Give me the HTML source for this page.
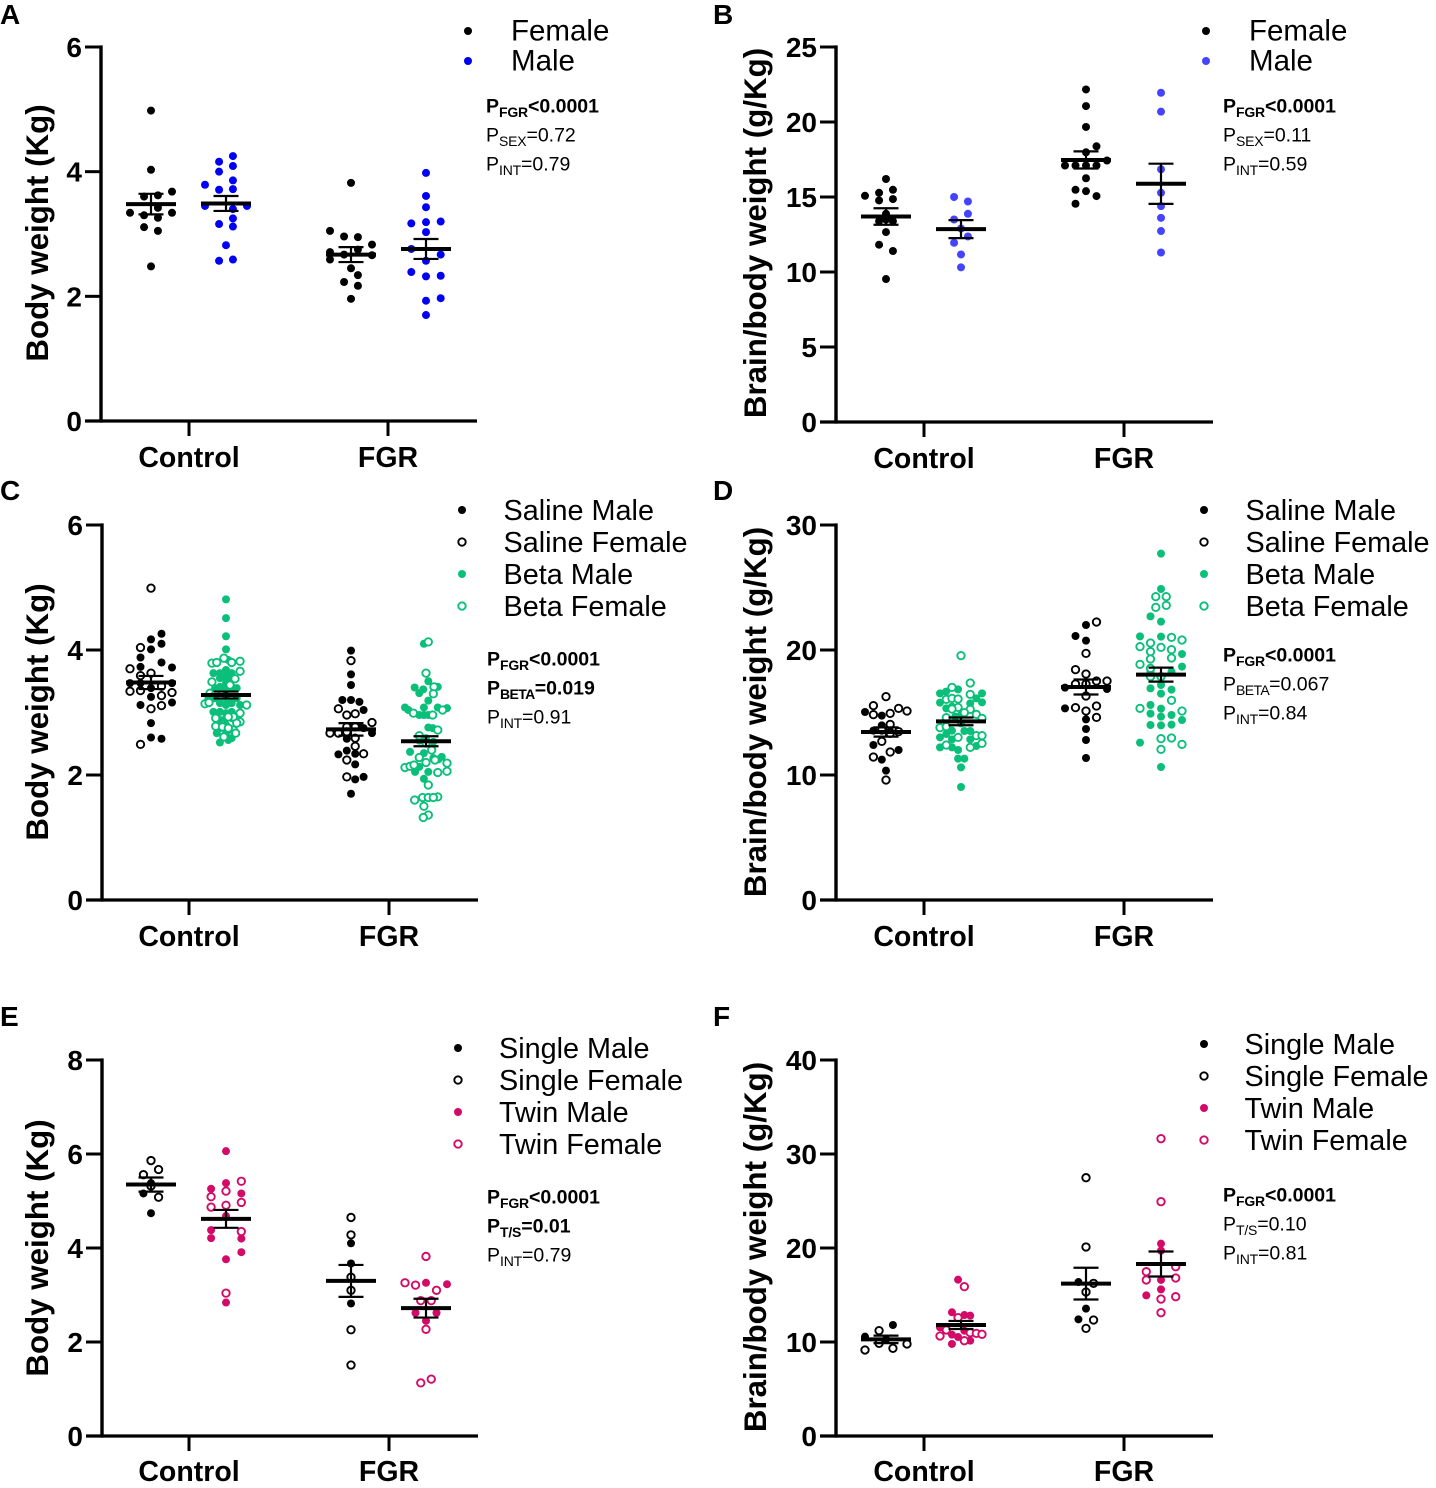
<!DOCTYPE html>
<html lang="en">
<head>
<meta charset="utf-8">
<title>Body weight and brain/body weight panels</title>
<style>
  html, body { margin: 0; padding: 0; background: #fff; }
  svg { display: block; }
  text { font-family: "Liberation Sans", sans-serif; fill: #000; }
  .letter { font-size: 28px; font-weight: 700; }
  .ytitle { font-size: 31.3px; font-weight: 700; text-anchor: middle; }
  .xlab { font-size: 28.5px; font-weight: 700; text-anchor: middle; }
  .ytick { font-size: 28px; font-weight: 700; text-anchor: end; }
  .leg { font-size: 28.8px; }
  .leg.big { font-size: 29.5px; }
  .st { font-size: 19.5px; }
  .st.b { font-weight: 700; }
  .st .s { font-size: 14px; letter-spacing: -0.2px; }
  .st .s.tight { letter-spacing: -0.6px; }
</style>
</head>
<body>
<svg id="figure" xmlns="http://www.w3.org/2000/svg" width="1436" height="1488" viewBox="0 0 1436 1488">
  <rect x="0" y="0" width="1436" height="1488" fill="#fff"/>

  <!-- Panel A -->
  <g id="panel-a">
    <text class="letter" x="0" y="24">A</text>
    <text class="ytitle" transform="translate(48,233) rotate(-90)">Body weight (Kg)</text>
    <text class="xlab" x="189" y="467">Control</text>
    <text class="xlab" x="388" y="467">FGR</text>
    <circle cx="468" cy="31" r="4" fill="#000"/>
    <circle cx="468" cy="61" r="4" fill="#0000f5"/>
    <text class="leg big" x="511" y="40.5">Female</text>
    <text class="leg big" x="511" y="70.5">Male</text>
    <text class="st b" x="486" y="112.5">P<tspan class="s" dy="4.5">FGR</tspan><tspan dy="-4.5">&lt;0.0001</tspan></text>
    <text class="st" x="486" y="141.5">P<tspan class="s" dy="4.5">SEX</tspan><tspan dy="-4.5">=0.72</tspan></text>
    <text class="st" x="486" y="170.5">P<tspan class="s" dy="4.5">INT</tspan><tspan dy="-4.5">=0.79</tspan></text>
  </g>

  <!-- Panel B -->
  <g id="panel-b">
    <text class="letter" x="713" y="24">B</text>
    <text class="ytitle" transform="translate(766,233) rotate(-90)">Brain/body weight (g/Kg)</text>
    <text class="xlab" x="924" y="468">Control</text>
    <text class="xlab" x="1124" y="468">FGR</text>
    <circle cx="1206" cy="31" r="4" fill="#000"/>
    <circle cx="1206" cy="61" r="4" fill="#4444ff"/>
    <text class="leg big" x="1249" y="40.5">Female</text>
    <text class="leg big" x="1249" y="70.5">Male</text>
    <text class="st b" x="1223" y="112.5">P<tspan class="s" dy="4.5">FGR</tspan><tspan dy="-4.5">&lt;0.0001</tspan></text>
    <text class="st" x="1223" y="141.5">P<tspan class="s" dy="4.5">SEX</tspan><tspan dy="-4.5">=0.11</tspan></text>
    <text class="st" x="1223" y="170.5">P<tspan class="s" dy="4.5">INT</tspan><tspan dy="-4.5">=0.59</tspan></text>
  </g>

  <!-- Panel C -->
  <g id="panel-c">
    <text class="letter" x="0" y="500">C</text>
    <text class="ytitle" transform="translate(48,712) rotate(-90)">Body weight (Kg)</text>
    <text class="xlab" x="189" y="946">Control</text>
    <text class="xlab" x="389" y="946">FGR</text>
    <circle cx="462" cy="510" r="4" fill="#000"/>
    <circle cx="462" cy="542" r="3.7" fill="#fff" stroke="#000" stroke-width="1.9"/>
    <circle cx="462" cy="574" r="4" fill="#0abf7a"/>
    <circle cx="462" cy="606" r="3.7" fill="#fff" stroke="#0abf7a" stroke-width="1.9"/>
    <text class="leg" x="503.5" y="520">Saline Male</text>
    <text class="leg" x="503.5" y="552">Saline Female</text>
    <text class="leg" x="503.5" y="584">Beta Male</text>
    <text class="leg" x="503.5" y="616">Beta Female</text>
    <text class="st b" x="487" y="665.5">P<tspan class="s" dy="4.5">FGR</tspan><tspan dy="-4.5">&lt;0.0001</tspan></text>
    <text class="st b" x="487" y="694.5">P<tspan class="s tight" dy="4.5">BETA</tspan><tspan dy="-4.5">=0.019</tspan></text>
    <text class="st" x="487" y="723.5">P<tspan class="s" dy="4.5">INT</tspan><tspan dy="-4.5">=0.91</tspan></text>
  </g>

  <!-- Panel D -->
  <g id="panel-d">
    <text class="letter" x="713" y="500">D</text>
    <text class="ytitle" transform="translate(766,712) rotate(-90)">Brain/body weight (g/Kg)</text>
    <text class="xlab" x="924" y="946">Control</text>
    <text class="xlab" x="1124" y="946">FGR</text>
    <circle cx="1204" cy="510" r="4" fill="#000"/>
    <circle cx="1204" cy="542" r="3.7" fill="#fff" stroke="#000" stroke-width="1.9"/>
    <circle cx="1204" cy="574" r="4" fill="#0abf7a"/>
    <circle cx="1204" cy="606" r="3.7" fill="#fff" stroke="#0abf7a" stroke-width="1.9"/>
    <text class="leg" x="1245.5" y="520">Saline Male</text>
    <text class="leg" x="1245.5" y="552">Saline Female</text>
    <text class="leg" x="1245.5" y="584">Beta Male</text>
    <text class="leg" x="1245.5" y="616">Beta Female</text>
    <text class="st b" x="1223" y="661.5">P<tspan class="s" dy="4.5">FGR</tspan><tspan dy="-4.5">&lt;0.0001</tspan></text>
    <text class="st" x="1223" y="690.5">P<tspan class="s tight" dy="4.5">BETA</tspan><tspan dy="-4.5">=0.067</tspan></text>
    <text class="st" x="1223" y="719.5">P<tspan class="s" dy="4.5">INT</tspan><tspan dy="-4.5">=0.84</tspan></text>
  </g>

  <!-- Panel E -->
  <g id="panel-e">
    <text class="letter" x="0" y="1026">E</text>
    <text class="ytitle" transform="translate(48,1248) rotate(-90)">Body weight (Kg)</text>
    <text class="xlab" x="189" y="1481">Control</text>
    <text class="xlab" x="389" y="1481">FGR</text>
    <circle cx="458" cy="1048" r="4" fill="#000"/>
    <circle cx="458" cy="1080" r="3.7" fill="#fff" stroke="#000" stroke-width="1.9"/>
    <circle cx="458" cy="1112" r="4" fill="#d30a68"/>
    <circle cx="458" cy="1144" r="3.7" fill="#fff" stroke="#d30a68" stroke-width="1.9"/>
    <text class="leg" x="499" y="1058">Single Male</text>
    <text class="leg" x="499" y="1090">Single Female</text>
    <text class="leg" x="499" y="1122">Twin Male</text>
    <text class="leg" x="499" y="1154">Twin Female</text>
    <text class="st b" x="487" y="1203.5">P<tspan class="s" dy="4.5">FGR</tspan><tspan dy="-4.5">&lt;0.0001</tspan></text>
    <text class="st b" x="487" y="1232.5">P<tspan class="s" dy="4.5">T/S</tspan><tspan dy="-4.5">=0.01</tspan></text>
    <text class="st" x="487" y="1261.5">P<tspan class="s" dy="4.5">INT</tspan><tspan dy="-4.5">=0.79</tspan></text>
  </g>

  <!-- Panel F -->
  <g id="panel-f">
    <text class="letter" x="713" y="1026">F</text>
    <text class="ytitle" transform="translate(766,1247) rotate(-90)">Brain/body weight (g/Kg)</text>
    <text class="xlab" x="924" y="1481">Control</text>
    <text class="xlab" x="1124" y="1481">FGR</text>
    <circle cx="1204" cy="1044" r="4" fill="#000"/>
    <circle cx="1204" cy="1076" r="3.7" fill="#fff" stroke="#000" stroke-width="1.9"/>
    <circle cx="1204" cy="1108" r="4" fill="#d30a68"/>
    <circle cx="1204" cy="1140" r="3.7" fill="#fff" stroke="#d30a68" stroke-width="1.9"/>
    <text class="leg" x="1244.5" y="1054">Single Male</text>
    <text class="leg" x="1244.5" y="1086">Single Female</text>
    <text class="leg" x="1244.5" y="1118">Twin Male</text>
    <text class="leg" x="1244.5" y="1150">Twin Female</text>
    <text class="st b" x="1223" y="1201.5">P<tspan class="s" dy="4.5">FGR</tspan><tspan dy="-4.5">&lt;0.0001</tspan></text>
    <text class="st" x="1223" y="1230.5">P<tspan class="s" dy="4.5">T/S</tspan><tspan dy="-4.5">=0.10</tspan></text>
    <text class="st" x="1223" y="1259.5">P<tspan class="s" dy="4.5">INT</tspan><tspan dy="-4.5">=0.81</tspan></text>
  </g>
</svg>

<script>
// ---- Panel A: body weight by sex ----
const aTicks = [0, 2, 4, 6];
const aMeans = [3.48, 3.49, 2.67, 2.76];
const aSems = [0.165, 0.12, 0.12, 0.16];
const aCtrlFemale = [4.98, 4.03, 3.68, 3.60, 3.62, 3.42, 3.34, 3.30, 3.26, 3.34, 3.11, 3.05, 2.48];
const aCtrlFemaleJit = [0, 0, 1, -0.33, 0.33, 0.33, -1, -0.33, 0.33, 1, -0.33, 0.33, 0];
const aCtrlMale = [4.25, 4.16, 4.09, 4.0, 3.86, 3.79, 3.71, 3.72, 3.45, 3.45, 3.40, 3.25, 3.16, 3.12, 2.82, 2.57, 2.59];
const aCtrlMaleJit = [0.33, -0.33, 0.33, -0.33, 0.33, -1, -0.33, 0.33, -1, 1, 0.33, 0.33, -0.33, 0.33, 0, -0.33, 0.33];
const aFgrFemale = [3.82, 3.05, 2.96, 2.95, 2.83, 2.71, 2.75, 2.67, 2.66, 2.59, 2.45, 2.34, 2.23, 2.17, 1.96];
const aFgrFemaleJit = [0, -1, -0.33, 0.33, 1, -1, 0.33, -0.33, 1, -1, 0, 0.33, -0.33, 0.33, 0];
const aFgrMale = [3.98, 3.61, 3.43, 3.17, 3.19, 3.20, 3.03, 2.76, 2.67, 2.57, 2.39, 2.32, 2.33, 1.97, 1.93, 1.70];
const aFgrMaleJit = [0, 0, 0, -0.7, 0, 0.7, 0, -0.7, 0.7, 0, -0.7, 0, 0.7, 0.7, 0, 0];

// ---- Panel B: brain/body ratio by sex ----
const bTicks = [0, 5, 10, 15, 20, 25];
const bMeans = [13.7, 12.86, 17.47, 15.88];
const bSems = [0.55, 0.6, 0.57, 1.34];
const bCtrlFemale = [16.2, 15.08, 15.28, 15.48, 14.77, 14.86, 13.88, 13.39, 13.39, 13.5, 12.66, 11.82, 11.4, 9.53];
const bCtrlFemaleJit = [0, -1, -0.33, 0.33, -0.33, 0.33, 0, -0.33, 0.33, 0, 0, -0.33, 0.33, 0];
const bCtrlMale = [15.0, 14.7, 13.88, 13.5, 12.9, 12.37, 11.95, 11.17, 10.31];
const bCtrlMaleJit = [-0.33, 0.33, 0.33, -0.33, 0, 0.33, -0.33, 0, 0];
const bFgrFemale = [22.17, 21.06, 19.67, 18.38, 17.98, 17.43, 17.1, 17.1, 17.1, 17.1, 16.25, 15.48, 15.39, 15.06, 14.55];
const bFgrFemaleJit = [0, 0, 0, 0.5, 0, 1, -1, -0.5, 0, 0.5, 0, -0.5, 0, 0.5, -0.5];
const bFgrMale = [21.95, 20.69, 16.85, 15.28, 14.39, 13.61, 12.73, 11.3];
const bFgrMaleJit = [0, 0, 0, 0, 0, 0, 0, 0];

// ---- Panel C: body weight by saline/beta ----
const cTicks = [0, 2, 4, 6];
const cMeans = [3.48, 3.28, 2.73, 2.54];
const cSems = [0.105, 0.055, 0.1, 0.08];
const cCtrlSalineMale = [4.26, 4.17, 4.10, 4.01, 3.88, 3.80, 3.73, 3.72, 3.39, 3.12, 3.16, 3.25, 2.83, 2.60, 2.58, 3.47, 3.47, 3.47];
const cCtrlSalineMaleJit = [0.5, 0, 0.5, 0, -0.5, 0.5, -0.5, 1, 0, -0.5, 1, 0, 0, 0, 0.5, -1, 1, -0.5];
const cCtrlSalineFemale = [4.99, 4.04, 3.70, 3.63, 3.59, 3.35, 3.34, 3.32, 3.42, 3.27, 3.11, 3.06, 2.49];
const cCtrlSalineFemaleJit = [0, -0.5, -1, 0, -0.5, -0.5, -1, 1, 0.5, 0.5, 0.5, 0, -0.5];
const cCtrlBetaMale = [4.81, 4.51, 4.22, 4.01, 3.84, 3.63, 3.63, 3.68, 3.63, 3.57, 3.55, 3.52, 3.47, 3.41, 3.41, 3.39, 3.39, 3.36, 3.23, 3.23, 3.23, 3.23, 3.15, 3.12, 3.15, 3.12, 3.01, 3.01, 2.99, 3.01, 2.88, 2.91, 2.91, 2.8, 2.75, 2.67, 2.67, 2.59, 2.52, 2.56];
const cCtrlBetaMaleJit = [0, 0, 0, 0, 0.11, -0.6, -0.29, 0, 0.27, 0, -0.29, 0.27, 0, -0.29, 0.27, -0.52, 0.51, 0, -0.84, -0.52, 0, 0.51, -0.29, 0, 0.27, 0.67, -0.6, -0.29, 0, 0.27, -0.29, 0, 0.27, 0, -0.29, -0.44, 0, 0.27, -0.29, 0.11];
const cCtrlBetaFemale = [3.79, 3.8, 3.87, 3.8, 3.82, 3.66, 3.54, 3.49, 3.44, 3.31, 3.3, 3.14, 3.16, 3.12, 2.99, 2.93, 2.93, 2.85, 2.91, 2.83, 2.78, 2.72, 2.67, 2.61, 2.77, 2.75];
const cCtrlBetaFemaleJit = [-0.67, -0.44, -0.1, 0.27, 0.67, 0.67, 0.43, -0.67, 0.19, -0.76, -0.49, -1, -0.81, 0.98, 0.67, 0.35, 0.11, 0.67, -0.49, 0.51, -0.49, 0.35, 0.46, -0.1, -0.17, 0.11];
const cFgrSalineMale = [3.99, 3.61, 3.44, 3.2, 3.2, 3.17, 3.04, 2.77, 2.75, 2.67, 2.58, 2.39, 2.34, 2.33, 2.17, 1.97, 1.93, 1.7];
const cFgrSalineMaleJit = [0, 0, 0, -0.41, 0, 0.4, 0.6, 0.4, 0.6, 1, -0.2, -0.2, 0.2, -0.6, 0.2, 0.6, 0.2, 0];
const cFgrSalineFemale = [3.83, 3.06, 2.96, 2.98, 2.84, 2.77, 2.77, 2.69, 2.67, 2.67, 2.59, 2.46, 2.34, 2.24, 1.97];
const cFgrSalineFemaleJit = [0, -0.6, -0.2, 0.2, 1, -0.2, 0.2, -0.2, -1, -0.6, 0.2, 0.2, 0.6, -0.2, -0.2];
const cFgrBetaMale = [4.1, 3.5, 3.4, 3.37, 3.31, 3.41, 3.19, 3.08, 3.08, 3.08, 3.07, 3.04, 2.96, 2.96, 2.96, 2.76, 2.75, 2.59, 2.55, 2.53, 2.37, 2.35, 2.29, 2.27, 2.13, 2.05, 2.05, 1.94, 2.25, 2.12];
const cFgrBetaMaleJit = [-0.1, 0.11, -0.54, -0.13, -0.32, 0.56, 0.11, -1, -0.1, 0.56, 1, -0.84, -0.32, -0.1, 0.11, 0.11, 0.32, 0, -0.32, 0.35, -0.76, -0.1, 0.75, 0.35, -0.32, -0.52, 0.11, -0.1, 0.59, -0.52];
const cFgrBetaFemale = [4.13, 3.63, 3.41, 3.3, 2.99, 2.96, 3.04, 2.72, 2.63, 2.51, 2.4, 2.28, 2.2, 2.24, 2.19, 2.06, 2.12, 2.14, 2.16, 2.04, 1.84, 1.65, 1.64, 1.64, 1.64, 1.6, 1.5, 1.36, 1.32];
const cFgrBetaFemaleJit = [0.11, 0, 0.38, 0.35, -0.6, 0.32, 0.79, 0.56, -0.32, 0, 0.27, -0.32, 0, 0.43, 1, 1, -1, -0.76, -0.57, 0.56, 0.11, 0.56, -0.16, 0.11, 0.35, -0.54, -0.1, 0.11, -0.13];

// ---- Panel D: brain/body ratio by saline/beta ----
const dTicks = [0, 10, 20, 30];
const dMeans = [13.44, 14.29, 17.04, 18.03];
const dSems = [0.37, 0.31, 0.6, 0.56];
const dCtrlSalineMale = [15.04, 14.75, 13.97, 13.55, 13.47, 12.4, 12.0, 11.23, 10.35];
const dCtrlSalineMaleJit = [-1, -0.2, -0.2, -0.6, 0.2, -0.6, 0.6, -0.2, 0];
const dCtrlSalineFemale = [16.27, 15.55, 15.33, 15.12, 14.83, 14.93, 14.05, 13.6, 13.33, 13.47, 12.69, 11.84, 11.44, 9.6];
const dCtrlSalineFemaleJit = [0, -0.6, 0.6, 1, -0.6, 0.2, 0.2, -0.2, 0.2, 0.6, -0.2, 0.2, -0.6, 0];
const dCtrlBetaMale = [16.53, 16.67, 16.85, 16.53, 16.13, 15.73, 15.79, 15.81, 15.33, 15.47, 14.8, 14.67, 14.13, 13.55, 13.52, 13.52, 13.28, 13.01, 12.85, 12.85, 12.21, 12.21, 12.0, 12.32, 11.31, 11.31, 10.61, 9.04];
const dCtrlBetaMaleJit = [-1, -0.71, -0.14, 1, 0.73, 0.44, -1, 1, -0.7, -0.43, 0, -0.27, 0, -0.43, 0.16, 0.44, -0.7, -1, -0.43, 0.44, -1, -0.43, -0.14, 0.73, -0.14, 0.16, 0, 0];
const dCtrlBetaFemale = [19.55, 17.36, 17.01, 16.45, 16.05, 16.13, 16.08, 15.41, 15.28, 15.25, 14.99, 14.85, 14.59, 14.53, 13.79, 13.87, 13.15, 13.15, 13.01, 12.53, 12.4, 12.21];
const dCtrlBetaFemaleJit = [0, 0.44, -0.43, 0.44, -0.7, -0.43, -0.14, -0.14, -0.43, 0.44, 0.16, 0.73, -0.7, 1, -1, -0.7, 0.73, 1, -0.14, 1, -0.7, 0.44];
const dFgrSalineMale = [22.0, 21.12, 20.75, 16.99, 16.88, 15.33, 14.45, 13.68, 12.8, 11.36];
const dFgrSalineMaleJit = [0, -0.5, 0, -1, 1, -1, 0, 0, 0, 0];
const dFgrSalineFemale = [22.24, 19.73, 18.43, 18.08, 17.52, 17.52, 17.28, 17.28, 16.32, 15.39, 15.52, 15.12, 14.61];
const dFgrSalineFemaleJit = [0.5, 0, -0.5, 0, 0.5, 1, -0.5, 0, 0, -0.5, 0.5, 0, 0.5];
const dFgrBetaMale = [27.71, 24.88, 22.69, 22.27, 21.09, 21.07, 19.68, 18.67, 18.27, 18.27, 17.2, 16.93, 16.83, 16.51, 15.6, 15.31, 14.91, 14.8, 14.67, 14.4, 14.0, 13.97, 14.03, 12.59, 10.64];
const dFgrBetaMaleJit = [0, 0, -0.5, 0, -1, 0, 1, 1, 0.5, -0.5, 0, -0.5, 0.5, 0, -0.5, 0, -0.5, 0.5, 0, 1, -0.5, 0, 0.5, -1, 0];
const dFgrBetaFemale = [24.27, 24.27, 23.41, 23.57, 21.01, 20.8, 20.56, 20.27, 20.21, 20.03, 19.87, 19.28, 19.36, 18.85, 18.53, 17.87, 17.87, 15.97, 15.33, 15.12, 12.91, 12.96, 12.45, 12.05];
const dFgrBetaFemaleJit = [-0.25, 0.25, -0.25, 0.25, 0.5, 1, -0.5, -1, 0, 0.5, -0.5, -0.5, 0.5, -1, -0.5, -0.5, 0, 0.5, -1, 1, 0, 0.5, 1, 0];

// ---- Panel E: body weight by single/twin ----
const eTicks = [0, 2, 4, 6, 8];
const eMeans = [5.35, 4.62, 3.3, 2.72];
const eSems = [0.15, 0.19, 0.34, 0.2];
const eCtrlSingleMale = [5.38, 5.16, 4.74];
const eCtrlSingleMaleJit = [0, -0.36, 0];
const eCtrlSingleFemale = [5.86, 5.67, 5.56, 5.32, 5.08];
const eCtrlSingleFemaleJit = [0, 0.36, -0.36, 0, 0.36];
const eCtrlTwinMale = [6.06, 5.38, 5.26, 5.16, 4.68, 4.38, 4.21, 4.2, 3.91, 3.76, 2.84];
const eCtrlTwinMaleJit = [0, 0, -0.71, 0.73, 0, -0.71, -0.71, 0.73, 0.73, 0, 0];
const eCtrlTwinFemale = [5.42, 5.21, 5.09, 4.97, 4.87, 4.91, 4.35, 3.04];
const eCtrlTwinFemaleJit = [0.73, 0, -0.71, 0.73, -0.71, 0, 0.73, 0];
const eFgrSingleMale = [4.1, 3.67, 2.82];
const eFgrSingleMaleJit = [0, 0, 0];
const eFgrSingleFemale = [4.65, 4.28, 3.38, 3.1, 2.26, 1.51];
const eFgrSingleFemaleJit = [0, 0, 0, 0, 0, 0];
const eFgrTwinMale = [3.26, 3.23, 2.62, 2.62, 2.45];
const eFgrTwinMaleJit = [0, 1, -0.5, 0.5, 0];
const eFgrTwinFemale = [3.82, 3.26, 3.21, 3.1, 2.88, 2.88, 2.27, 1.21, 1.13];
const eFgrTwinFemaleJit = [0, -1, -0.5, 0.5, -0.25, 0.25, 0, 0.25, -0.25];

// ---- Panel F: brain/body ratio by single/twin ----
const fTicks = [0, 10, 20, 30, 40];
const fMeans = [10.28, 11.81, 16.21, 18.3];
const fSems = [0.4, 0.43, 1.69, 1.33];
const fCtrlSingleMale = [11.81, 10.57, 10.28];
const fCtrlSingleMaleJit = [0.33, -1, 0];
const fCtrlSingleFemale = [11.21, 9.86, 9.79, 9.33, 9.15];
const fCtrlSingleFemaleJit = [-0.33, -0.33, 1, 0.33, -1];
const fCtrlTwinMale = [16.63, 13.16, 12.87, 12.8, 11.56, 11.2, 10.78, 10.53, 10.14, 9.79];
const fCtrlTwinMaleJit = [-0.14, -0.43, 0.16, 0.44, -1, 0.16, -0.43, -0.14, 0.44, -0.43];
const fCtrlTwinFemale = [15.89, 12.59, 11.28, 10.99, 10.92, 10.82, 10.64, 10.14];
const fCtrlTwinFemaleJit = [0.16, -0.14, -0.7, 0.44, 0.73, 1, -1, 0.16];
const fFgrSingleMale = [16.38, 13.55, 12.41];
const fFgrSingleMaleJit = [-0.36, 0, -0.36];
const fFgrSingleFemale = [27.48, 20.11, 16.24, 15.32, 12.34, 11.45];
const fFgrSingleFemaleJit = [0, 0, 0.36, 0, 0.36, 0];
const fFgrTwinMale = [20.46, 19.72, 16.6, 15.6, 14.96];
const fFgrTwinMaleJit = [0, 0, 0, 0, -0.7];
const fFgrTwinFemale = [31.63, 24.93, 18.01, 17.48, 16.81, 16.6, 14.82, 14.57, 13.12];
const fFgrTwinFemaleJit = [0, 0, 0.7, -0.7, 0.7, -0.7, 0.7, 0, 0];

// ---- Drawing ----
const NS = 'http://www.w3.org/2000/svg';
const BLACK = '#000', BLUE = '#0000f5', BLUE2 = '#4444ff', GREEN = '#0abf7a', CRIMSON = '#d30a68';

function mk(parent, tag, attrs) {
  const el = document.createElementNS(NS, tag);
  for (const k in attrs) el.setAttribute(k, attrs[k]);
  parent.appendChild(el);
  return el;
}

function drawPanel(p) {
  const root = document.getElementById(p.id);
  const yScale = v => p.yBottom - (v / p.ticks[p.ticks.length - 1]) * (p.yBottom - p.yTop);
  const jitterScale = j => j * 21;

  const yAxis = mk(root, 'line', { x1: p.axisX, x2: p.axisX, y1: p.yTop - 1.6, y2: p.yBottom + 1.6, stroke: '#000', 'stroke-width': 3.4 });
  
  
  const xAxis = mk(root, 'line', { x1: p.axisX - 16, x2: p.xEnd, y1: p.yBottom, y2: p.yBottom, stroke: '#000', 'stroke-width': 3.2 });
  
  

  p.ticks.forEach(t => {
    const tick = mk(root, 'line', { x1: p.axisX - 16, x2: p.axisX, y1: yScale(t), y2: yScale(t), stroke: '#000', 'stroke-width': 3 });
    
    
    const lab = mk(root, 'text', { class: 'ytick', x: p.axisX - 19, y: yScale(t) + 10 });
    lab.textContent = String(t);
    
    
  });
  p.xTicks.forEach(x => {
    const tick = mk(root, 'line', { x1: x, x2: x, y1: p.yBottom, y2: p.yBottom + 15, stroke: '#000', 'stroke-width': 3 });
    
    
  });

  p.series.forEach(s => {
    const cx = p.cols[s.col];
    s.values.forEach((v, i) => {
      const x = cx + jitterScale(s.jitter[i] || 0);
      const attrs = s.open
        ? { cx: x, cy: yScale(v), r: 3.7, fill: '#fff', stroke: s.color, 'stroke-width': 1.9 }
        : { cx: x, cy: yScale(v), r: 4, fill: s.color };
      const dot = mk(root, 'circle', attrs);
      
      
    });
  });

  p.means.forEach((m, i) => {
    const cx = p.cols[i], hi = yScale(m + p.sems[i]), lo = yScale(m - p.sems[i]);
    const stem = mk(root, 'line', { x1: cx, x2: cx, y1: hi, y2: lo, stroke: '#000', 'stroke-width': 2.2 });
    
    
    const capTop = mk(root, 'line', { x1: cx - 12.5, x2: cx + 12.5, y1: hi, y2: hi, stroke: '#000', 'stroke-width': 2.2 });
    
    
    const capLow = mk(root, 'line', { x1: cx - 12.5, x2: cx + 12.5, y1: lo, y2: lo, stroke: '#000', 'stroke-width': 2.2 });
    
    
    const mean = mk(root, 'line', { x1: cx - 25, x2: cx + 25, y1: yScale(m), y2: yScale(m), stroke: '#000', 'stroke-width': 4 });
    
    
  });
}

const leftCols = [151, 226, 351, 426];
const rightCols = [886, 961, 1086, 1161];

drawPanel({ id: 'panel-a', axisX: 101, xEnd: 477, yTop: 47, yBottom: 421, xTicks: [189, 388], cols: leftCols, ticks: aTicks, means: aMeans, sems: aSems, series: [
  { col: 0, values: aCtrlFemale, jitter: aCtrlFemaleJit, color: BLACK },
  { col: 1, values: aCtrlMale, jitter: aCtrlMaleJit, color: BLUE },
  { col: 2, values: aFgrFemale, jitter: aFgrFemaleJit, color: BLACK },
  { col: 3, values: aFgrMale, jitter: aFgrMaleJit, color: BLUE }
] });
drawPanel({ id: 'panel-b', axisX: 836, xEnd: 1213, yTop: 47, yBottom: 422, xTicks: [924, 1124], cols: rightCols, ticks: bTicks, means: bMeans, sems: bSems, series: [
  { col: 0, values: bCtrlFemale, jitter: bCtrlFemaleJit, color: BLACK },
  { col: 1, values: bCtrlMale, jitter: bCtrlMaleJit, color: BLUE2 },
  { col: 2, values: bFgrFemale, jitter: bFgrFemaleJit, color: BLACK },
  { col: 3, values: bFgrMale, jitter: bFgrMaleJit, color: BLUE2 }
] });
drawPanel({ id: 'panel-c', axisX: 102, xEnd: 478, yTop: 525, yBottom: 900, xTicks: [189, 389], cols: leftCols, ticks: cTicks, means: cMeans, sems: cSems, series: [
  { col: 0, values: cCtrlSalineMale, jitter: cCtrlSalineMaleJit, color: BLACK },
  { col: 0, values: cCtrlSalineFemale, jitter: cCtrlSalineFemaleJit, color: BLACK, open: true },
  { col: 1, values: cCtrlBetaMale, jitter: cCtrlBetaMaleJit, color: GREEN },
  { col: 1, values: cCtrlBetaFemale, jitter: cCtrlBetaFemaleJit, color: GREEN, open: true },
  { col: 2, values: cFgrSalineMale, jitter: cFgrSalineMaleJit, color: BLACK },
  { col: 2, values: cFgrSalineFemale, jitter: cFgrSalineFemaleJit, color: BLACK, open: true },
  { col: 3, values: cFgrBetaMale, jitter: cFgrBetaMaleJit, color: GREEN },
  { col: 3, values: cFgrBetaFemale, jitter: cFgrBetaFemaleJit, color: GREEN, open: true }
] });
drawPanel({ id: 'panel-d', axisX: 836, xEnd: 1213, yTop: 525, yBottom: 900, xTicks: [924, 1124], cols: rightCols, ticks: dTicks, means: dMeans, sems: dSems, series: [
  { col: 0, values: dCtrlSalineMale, jitter: dCtrlSalineMaleJit, color: BLACK },
  { col: 0, values: dCtrlSalineFemale, jitter: dCtrlSalineFemaleJit, color: BLACK, open: true },
  { col: 1, values: dCtrlBetaMale, jitter: dCtrlBetaMaleJit, color: GREEN },
  { col: 1, values: dCtrlBetaFemale, jitter: dCtrlBetaFemaleJit, color: GREEN, open: true },
  { col: 2, values: dFgrSalineMale, jitter: dFgrSalineMaleJit, color: BLACK },
  { col: 2, values: dFgrSalineFemale, jitter: dFgrSalineFemaleJit, color: BLACK, open: true },
  { col: 3, values: dFgrBetaMale, jitter: dFgrBetaMaleJit, color: GREEN },
  { col: 3, values: dFgrBetaFemale, jitter: dFgrBetaFemaleJit, color: GREEN, open: true }
] });
drawPanel({ id: 'panel-e', axisX: 102, xEnd: 478, yTop: 1060, yBottom: 1436, xTicks: [189, 389], cols: leftCols, ticks: eTicks, means: eMeans, sems: eSems, series: [
  { col: 0, values: eCtrlSingleMale, jitter: eCtrlSingleMaleJit, color: BLACK },
  { col: 0, values: eCtrlSingleFemale, jitter: eCtrlSingleFemaleJit, color: BLACK, open: true },
  { col: 1, values: eCtrlTwinMale, jitter: eCtrlTwinMaleJit, color: CRIMSON },
  { col: 1, values: eCtrlTwinFemale, jitter: eCtrlTwinFemaleJit, color: CRIMSON, open: true },
  { col: 2, values: eFgrSingleMale, jitter: eFgrSingleMaleJit, color: BLACK },
  { col: 2, values: eFgrSingleFemale, jitter: eFgrSingleFemaleJit, color: BLACK, open: true },
  { col: 3, values: eFgrTwinMale, jitter: eFgrTwinMaleJit, color: CRIMSON },
  { col: 3, values: eFgrTwinFemale, jitter: eFgrTwinFemaleJit, color: CRIMSON, open: true }
] });
drawPanel({ id: 'panel-f', axisX: 836, xEnd: 1213, yTop: 1060, yBottom: 1436, xTicks: [924, 1124], cols: rightCols, ticks: fTicks, means: fMeans, sems: fSems, series: [
  { col: 0, values: fCtrlSingleMale, jitter: fCtrlSingleMaleJit, color: BLACK },
  { col: 0, values: fCtrlSingleFemale, jitter: fCtrlSingleFemaleJit, color: BLACK, open: true },
  { col: 1, values: fCtrlTwinMale, jitter: fCtrlTwinMaleJit, color: CRIMSON },
  { col: 1, values: fCtrlTwinFemale, jitter: fCtrlTwinFemaleJit, color: CRIMSON, open: true },
  { col: 2, values: fFgrSingleMale, jitter: fFgrSingleMaleJit, color: BLACK },
  { col: 2, values: fFgrSingleFemale, jitter: fFgrSingleFemaleJit, color: BLACK, open: true },
  { col: 3, values: fFgrTwinMale, jitter: fFgrTwinMaleJit, color: CRIMSON },
  { col: 3, values: fFgrTwinFemale, jitter: fFgrTwinFemaleJit, color: CRIMSON, open: true }
] });
</script>
</body>
</html>
